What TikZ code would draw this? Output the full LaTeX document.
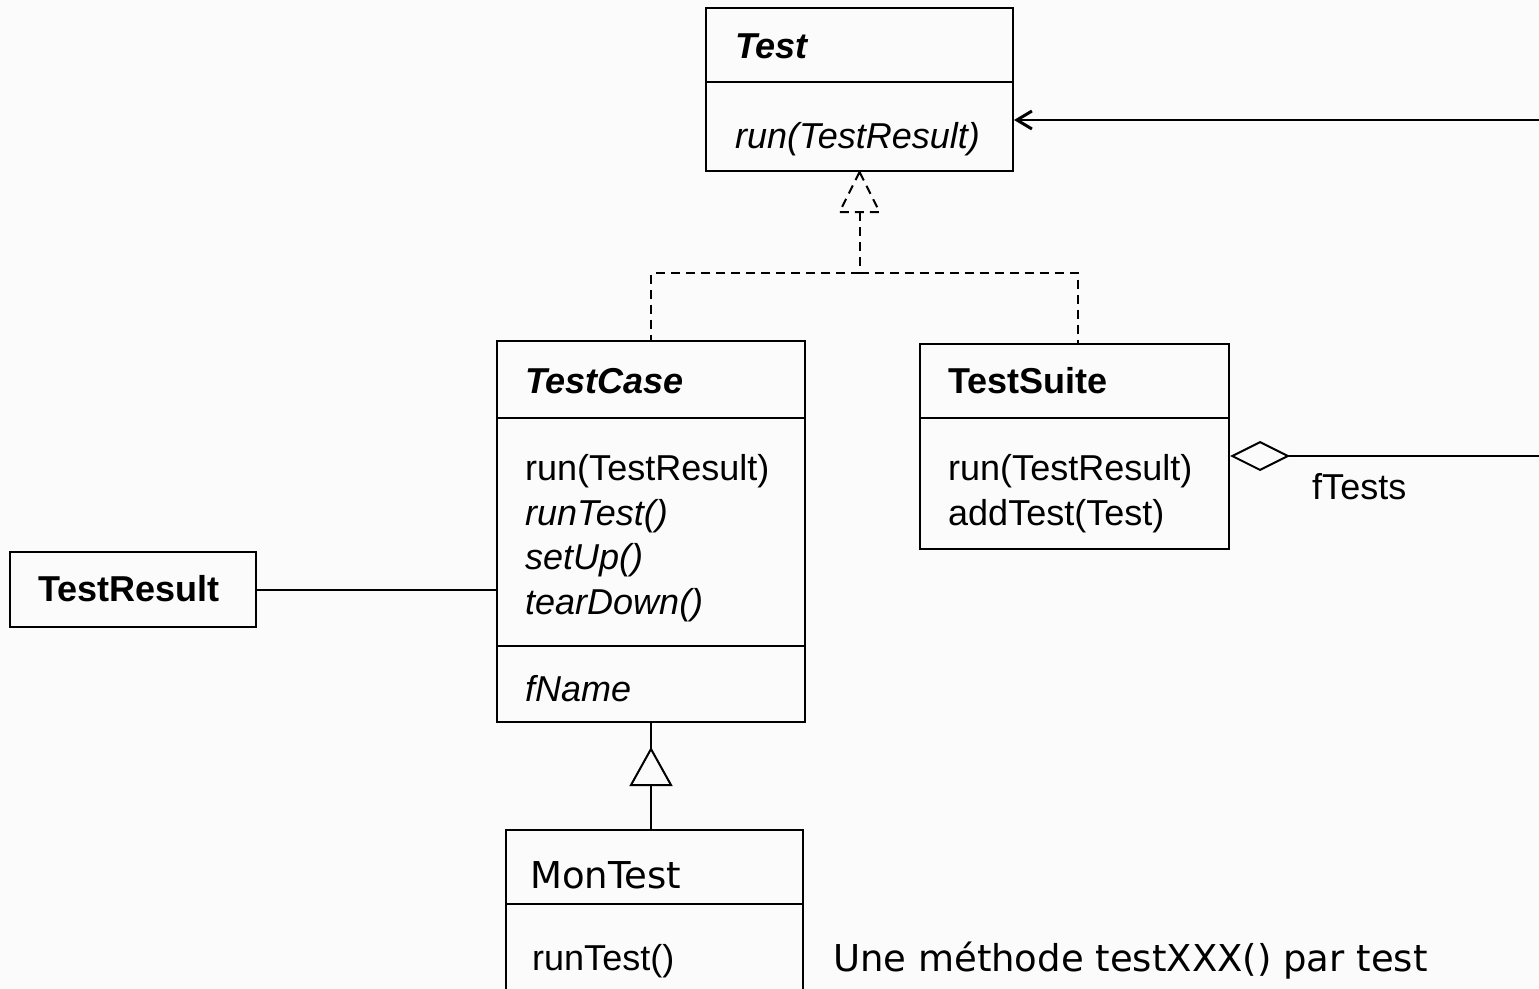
\documentclass[tikz,border=0pt]{standalone}
\usepackage{fontspec}
\setmainfont{Liberation Sans}
\newfontfamily\tahomalike{DejaVu Sans}
\usetikzlibrary{arrows.meta}
\definecolor{bg}{HTML}{FBFBFB}
\begin{document}
\begin{tikzpicture}[x=1pt,y=-1pt,
  umlbox/.style={draw, line width=2pt, rectangle, inner sep=0pt},
  ln/.style={line width=2pt},
  dsh/.style={line width=2pt, dash pattern=on 9pt off 6pt},
  lbl/.style={anchor=base west, inner sep=0pt, font=\fontsize{36}{43}\selectfont},
  big/.style={anchor=base west, inner sep=0pt, font=\tahomalike\fontsize{37}{44}\selectfont}]
\fill[bg] (0,0) rectangle (1539,988);
\useasboundingbox (0,0) rectangle (1539,988);

% ---- boxes
\node[umlbox, minimum width=307pt, minimum height=163pt] (Test) at (859.5,89.5) {};
\node[umlbox, minimum width=308pt, minimum height=381pt] (TestCase) at (651,531.5) {};
\node[umlbox, minimum width=309pt, minimum height=205pt] (TestSuite) at (1074.5,446.5) {};
\node[umlbox, minimum width=246pt, minimum height=75pt] (TestResult) at (133,589.5) {};
\node[umlbox, minimum width=297pt, minimum height=200pt, anchor=north west] (MonTest) at (505,829) {};

% ---- dividers
\draw[ln] (Test.west |- 0,82) -- (Test.east |- 0,82);
\draw[ln] (TestCase.west |- 0,418) -- (TestCase.east |- 0,418);
\draw[ln] (TestCase.west |- 0,646) -- (TestCase.east |- 0,646);
\draw[ln] (TestSuite.west |- 0,418) -- (TestSuite.east |- 0,418);
\draw[ln] (MonTest.west |- 0,904) -- (MonTest.east |- 0,904);

% ---- texts
\node[lbl] (tTest) at (735,58) {\bfseries\itshape Test};
\node[lbl] (tTestRun) at (735,148) {\itshape run(TestResult)};

\node[lbl] (tCase) at (525,393) {\bfseries\itshape TestCase};
\node[lbl] (tCaseRun) at (525,480) {run(TestResult)};
\node[lbl] (tCaseRunTest) at (525,525) {\itshape runTest()};
\node[lbl] (tCaseSetUp) at (525,569) {\itshape setUp()};
\node[lbl] (tCaseTear) at (525,614) {\itshape tearDown()};
\node[lbl] (tCaseName) at (525,701) {\itshape fName};

\node[lbl] (tSuite) at (948,393) {\bfseries TestSuite};
\node[lbl] (tSuiteRun) at (948,480) {run(TestResult)};
\node[lbl] (tSuiteAdd) at (948,525) {addTest(Test)};

\node[lbl] (tResult) at (38,601) {\bfseries TestResult};

\node[big] (tMon) at (530,888) {MonTest};
\node[lbl] (tMonRun) at (532,970) {runTest()};

\node[big] (note) at (833,971) {Une méthode testXXX() par test};

% ---- association TestSuite -> Test (leaves the picture on the right)
\coordinate (rTop) at (1545,120);
\draw[ln, -{Straight Barb[length=15pt,width=18pt,line width=3pt]}] (rTop) -- (Test.east |- rTop);

% ---- aggregation fTests
\coordinate (rAgg) at (1545,456);
\draw[ln, -{Diamond[open,length=60pt,width=30pt]}] (rAgg) -- (TestSuite.east |- rAgg);
\node[lbl] (tFTests) at (1312,499) {fTests};

% ---- realization (dashed) TestCase/TestSuite -> Test
\draw[dsh] (Test.south) -- ++(-20,40) -- ++(40,0) -- cycle;
\coordinate (rj) at (Test.south |- 0,273);
\draw[dsh] ([yshift=-40pt]Test.south) -- (rj);
\draw[dsh] (rj) -| (TestCase.north);
\draw[dsh] (rj) -| ([xshift=3.5pt]TestSuite.north);

% ---- association TestResult -- TestCase
\draw[ln] (TestResult.east) -- (TestCase.west |- TestResult.east);

% ---- generalization MonTest -> TestCase
\coordinate (gtip) at ([yshift=-26pt]TestCase.south);
\draw[ln] (TestCase.south) -- (gtip);
\draw[ln] (gtip) -- ++(-20,36) -- ++(40,0) -- cycle;
\draw[ln] ([yshift=-36pt]gtip) -- (gtip |- MonTest.north);
\end{tikzpicture}
\end{document}
